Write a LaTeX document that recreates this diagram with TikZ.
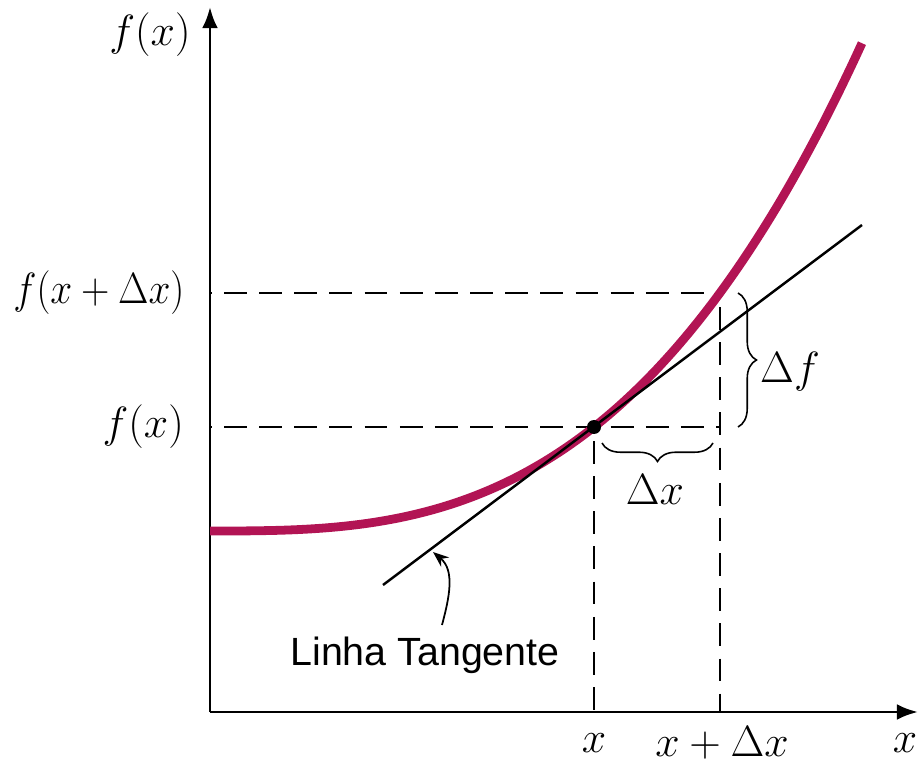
\documentclass[tikz,border=0pt]{standalone}
\usepackage{fontspec}
\newfontfamily\arialfont{Liberation Sans}
\usepackage{amsmath}
\usetikzlibrary{arrows.meta,decorations.pathreplacing,calc}
\definecolor{curvacor}{RGB}{178,20,84}

\begin{document}
\begin{tikzpicture}[
    rot/.style={font=\fontsize{23}{28}\selectfont},
    tracejado/.style={line width=1.7pt, dash pattern=on 13pt off 7pt, dash phase=-8pt},
    chave/.style={decorate, decoration={brace, amplitude=10.5pt}, line width=0.9pt}
]
    \useasboundingbox (0,0) rectangle (18.38,15.26);

    \coordinate (O) at (4.2,1.02);
    \coordinate (Y) at (4.2,15.12);
    \coordinate (X) at (18.36,1.02);
    \coordinate (P) at (11.88,6.72);
    \coordinate (Q) at (14.4,9.4);
    \coordinate (A) at (7.66,3.56);
    \coordinate (B) at (17.24,10.76);

    % Tracejados
    \draw[tracejado] (O |- Q) -- (Q);
    \draw[tracejado] (Q) -- (Q |- O);
    \draw[tracejado] (O |- P) -- (P -| Q);
    \draw[tracejado] (P) -- (P |- O);

    % Eixos
    \draw[line width=1.7pt, -{Latex[length=12pt,width=9pt]}] (O) -- (X);
    \draw[line width=1.7pt, -{Latex[length=12pt,width=9pt]}] (O) -- (Y);

    % Curva f(x)
    \draw[curvacor, line width=5pt, domain=4.2:17.24, samples=80, smooth]
        plot (\x, {4.64+2.08*((\x-4.2)/7.68+0.00001)^2.92});

    % Linha tangente
    \draw[line width=1.4pt] (A) -- (B);
    \fill (P) circle (0.14);

    % Chaves
    \draw[chave] (14.76,9.4) -- (14.76,6.72);
    \draw[chave] (14.26,6.4) -- (12.04,6.4);
    \node[rot] (df) at (15.8,7.82) {$\Delta f$};
    \node[rot] (dx) at (13.1,5.46) {$\Delta x$};

    % Rotulos
    \node[rot] (fy) at (3.0,14.56) {$f(x)$};
    \node[rot, anchor=east, xscale=0.9] (fxdx) at (3.8,9.4) {$f(x+\Delta x)$};
    \node[rot, anchor=east] (fx) at (3.8,6.72) {$f(x)$};
    \node[rot, inner sep=0pt] (x1) at (11.88,0.4) {$x$};
    \node[rot, inner sep=0pt] (x2) at (14.44,0.4) {$x+\Delta x$};
    \node[rot, inner sep=0pt] (xe) at (18.1,0.4) {$x$};

    \node[font=\arialfont\fontsize{22.4}{27}\selectfont] (lt) at (8.5,2.16) {Linha Tangente};
    \coordinate (ls) at (8.84,2.76);
    \coordinate (lp) at (8.66,4.22);
    \draw[line width=1pt, -{Stealth[length=9pt,width=7pt]}] (ls) to[out=75,in=-40] (lp);
\end{tikzpicture}
\end{document}
